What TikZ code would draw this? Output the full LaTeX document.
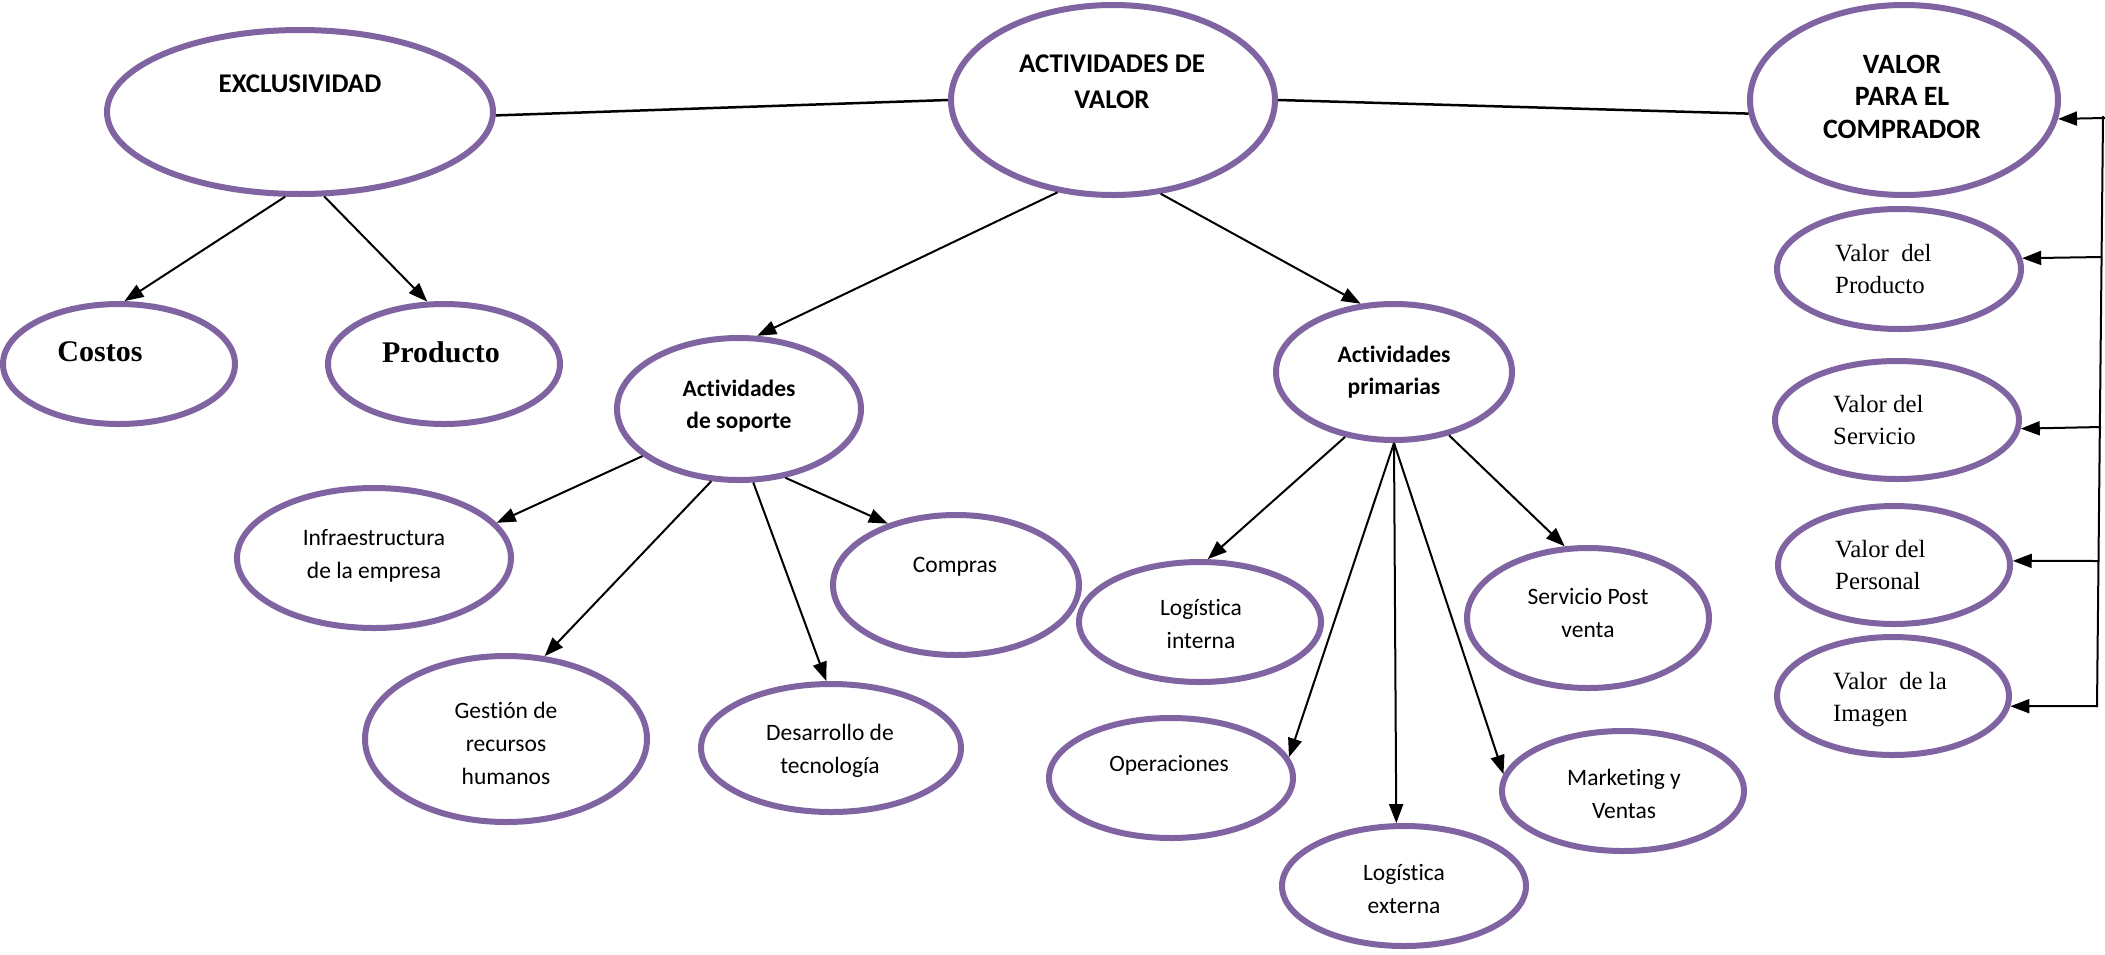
\documentclass[tikz,border=0pt]{standalone}
\usepackage{fontspec}
\usetikzlibrary{shapes.geometric,arrows.meta}
\newfontfamily\calib[Ligatures={TeX,NoCommon}]{Carlito}
\newfontfamily\tnr{Liberation Serif}
\definecolor{vio}{HTML}{8064A2}

\begin{document}
\begin{tikzpicture}[x=1pt,y=-1pt,
  ell/.style={ellipse,draw=vio,line width=6pt,inner sep=0pt},
  lbl/.style={inner sep=0pt,anchor=north,align=center},
  lbll/.style={lbl,anchor=north west,align=left},
  hdrfont/.style={font=\calib\bfseries\fontsize{27}{36}\selectfont},
  subfont/.style={font=\calib\bfseries\fontsize{23.5}{32}\selectfont},
  regfont/.style={font=\calib\fontsize{23.5}{33}\selectfont},
  bigfont/.style={font=\tnr\bfseries\fontsize{30}{36}\selectfont},
  tmsfont/.style={font=\tnr\fontsize{24.8}{32}\selectfont},
  arr/.style={draw=black,line width=2pt,-{Triangle[length=19pt,width=14pt]}},
  linkline/.style={draw=black,line width=2.5pt},
]
\fill[white] (0,0) rectangle (2105,954);
\useasboundingbox (0,0) rectangle (2105,954);

% ---- ellipses ----
\node[ell,minimum width=386,minimum height=164] (ex)  at (300,112) {};
\node[ell,minimum width=324,minimum height=190] (av)  at (1113,100) {};
\node[ell,minimum width=308,minimum height=190] (vc)  at (1904,100) {};
\node[ell,minimum width=232,minimum height=120] (co)  at (119,364) {};
\node[ell,minimum width=232,minimum height=120] (pr)  at (444,364) {};
\node[ell,minimum width=244,minimum height=142] (so)  at (739,409) {};
\node[ell,minimum width=236,minimum height=136] (pm)  at (1394,372) {};
\node[ell,minimum width=244,minimum height=120] (vp)  at (1899,269) {};
\node[ell,minimum width=244,minimum height=118] (vs)  at (1897,420) {};
\node[ell,minimum width=232,minimum height=118] (vpe) at (1894,565) {};
\node[ell,minimum width=232,minimum height=118] (vi)  at (1893,696) {};
\node[ell,minimum width=274,minimum height=140] (inf) at (374,558) {};
\node[ell,minimum width=246,minimum height=140] (com) at (956,585) {};
\node[ell,minimum width=282,minimum height=166] (ge)  at (506,739) {};
\node[ell,minimum width=260,minimum height=128] (de)  at (831,748) {};
\node[ell,minimum width=242,minimum height=120] (li)  at (1200,622) {};
\node[ell,minimum width=242,minimum height=140] (sp)  at (1588,618) {};
\node[ell,minimum width=244,minimum height=120] (op)  at (1171,778) {};
\node[ell,minimum width=244,minimum height=120] (le)  at (1404,886) {};
\node[ell,minimum width=242,minimum height=120] (mk)  at (1623,791) {};

% ---- texts (top of each block = first baseline - 0.7 baselineskip) ----
\node[lbl,hdrfont] (ext) at (300,66.8) {\strut EXCLUSIVIDAD\strut};
\node[lbl,hdrfont] (avt) at (1112,46.8) {\strut ACTIVIDADES DE\\VALOR\strut};
\node[lbl,font=\calib\bfseries\fontsize{28}{32.5}\selectfont] (vct) at (1902,50.25) {\strut VALOR\\PARA EL\\COMPRADOR\strut};
\node[lbl,bigfont] (cot) at (100,335.8) {\strut Costos\strut};
\node[lbl,bigfont] (prt) at (441,336.8) {\strut Producto\strut};
\node[lbl,subfont] (sot) at (739,373.6) {\strut Actividades\\de soporte\strut};
\node[lbl,subfont] (pmt) at (1394,339.6) {\strut Actividades\\primarias\strut};
\node[lbl,regfont] (inft) at (374,521.9) {\strut Infraestructura\\de la empresa\strut};
\node[lbl,regfont] (comt) at (955,548.9) {\strut Compras\strut};
\node[lbl,regfont] (get) at (506,694.9) {\strut Gestión de\\recursos\\humanos\strut};
\node[lbl,regfont] (det) at (830,716.9) {\strut Desarrollo de\\tecnología\strut};
\node[lbl,regfont] (lit) at (1201,592.4) {\strut Logística\\interna\strut};
\node[lbl,regfont] (spt) at (1588,581.4) {\strut Servicio Post\\venta\strut};
\node[lbl,regfont] (opt) at (1169,748.4) {\strut Operaciones\strut};
\node[lbl,regfont] (let) at (1404,857.4) {\strut Logística\\externa\strut};
\node[lbl,regfont] (mkt) at (1624,761.9) {\strut Marketing y\\Ventas\strut};
\node[lbll,tmsfont] (vpt) at (1835,239.1) {\strut Valor\ \ del\\Producto\strut};
\node[lbll,tmsfont] (vst) at (1833,390.1) {\strut Valor del\\Servicio\strut};
\node[lbll,tmsfont] (vpet) at (1835,535.1) {\strut Valor del\\Personal\strut};
\node[lbll,tmsfont] (vit) at (1833,666.6) {\strut Valor\ \ de la\\Imagen\strut};

% ---- top row links ----
\draw[linkline] (ex.-1) -- (av.180.5);
\draw[linkline] (av.0) -- (vc.185);

% ---- arrows ----
\draw[arr] (ex.260.6) -- (co.85.6);
\draw[arr] (ex.286) -- (pr.105.5);
\draw[arr] (av.239.5) -- (so.76.3);
\draw[arr] (av.297.3) -- (pm.116.6);

\draw[arr] (so.206.6) -- (inf.16.9);
\draw[arr] (so.249) -- (ge.65.1);
\draw[arr] (so.281.6) -- (de.94.1);
\draw[arr] (so.304.4) -- (com.138.1);

\draw[arr] (pm.233.7) -- (li.83.1);
\draw[arr] (pm.270) -- (op.10.1);
\draw[arr] (pm.270) -- (le.97.9);
\draw[arr] (pm.270) -- (mk.172.2);
\draw[arr] (pm.311.2) -- (sp.108);

% ---- right bracket ----
\coordinate (rtop) at (2103,116);
\coordinate (rbot) at (2097,707);
\coordinate (r0) at (2105,118);
\coordinate (r1) at (2102,257);
\coordinate (r2) at (2101,427);
\coordinate (r3) at (2099,561);
\coordinate (r4) at (2097,706);
\draw[draw=black,line width=2pt] (rtop) -- (rbot);
\draw[arr] (r0) -- (vc.353.2);
\draw[arr] (r1) -- (vp.5.7);
\draw[arr] (r2) -- (vs.356.9);
\draw[arr] (r3) -- (vpe.2);
\draw[arr] (r4) -- (vi.355);
\end{tikzpicture}
\end{document}
